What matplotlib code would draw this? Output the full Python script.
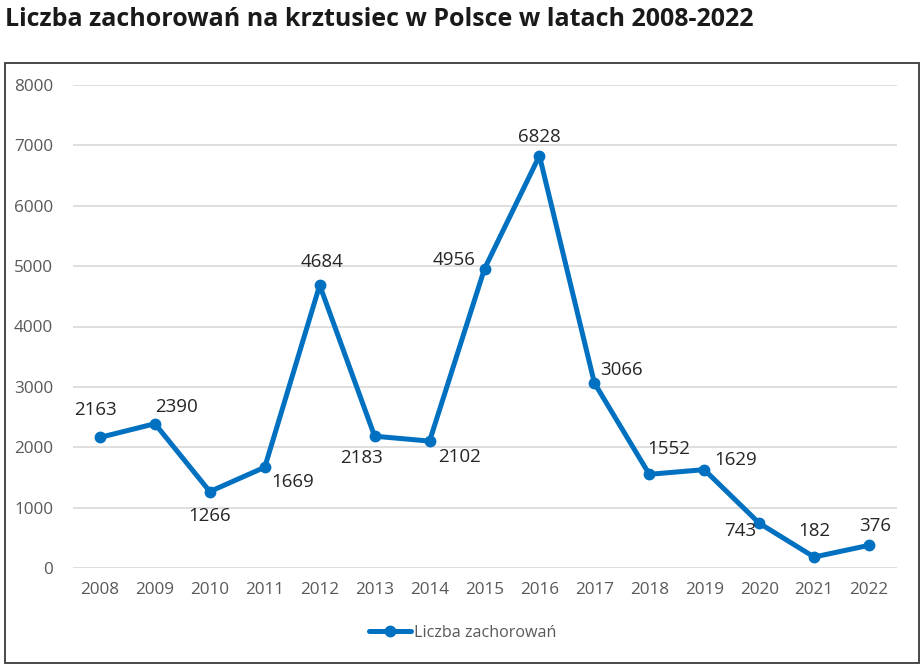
import matplotlib.pyplot as plt
from matplotlib.patches import Rectangle

plt.rcParams['font.family'] = ['Open Sans', 'DejaVu Sans']

years = ['2008', '2009', '2010', '2011', '2012', '2013', '2014', '2015',
         '2016', '2017', '2018', '2019', '2020', '2021', '2022']
cases = [2163, 2390, 1266, 1669, 4684, 2183, 2102, 4956,
         6828, 3066, 1552, 1629, 743, 182, 376]

# label offsets in pixels (dx right, dy down)
offsets_px = [(-5, -27), (22, -17), (0, 24), (28, 15), (2, -23), (-13, 22),
              (30, 16), (-30, -9), (0, -19), (27, -13), (19, -25), (31, -10),
              (-19, 8), (0, -26), (6, -19)]

W, H = 923, 666
fig = plt.figure(figsize=(W / 100, H / 100), dpi=100)

# plot area in pixels: x 72.5..896.5, y 85 (8000) .. 568 (0)
left, right = 72.5 / W, 896.5 / W
top, bottom = 1 - 85 / H, 1 - 568 / H
ax = fig.add_axes([left, bottom, right - left, top - bottom])

blue = '#0070C0'
x = list(range(len(years)))
line, = ax.plot(x, cases, color=blue, lw=3.6, marker='o', ms=7.5,
                solid_capstyle='round', label='Liczba zachorowań', zorder=3,
                clip_on=False)

for xi, v, (dx, dy) in zip(x, cases, offsets_px):
    ax.annotate(str(v), (xi, v), xytext=(dx * 0.72, -dy * 0.72),
                textcoords='offset points', ha='center', va='center',
                fontsize=13.5, color='#262626')

ax.set_xlim(-0.5, len(years) - 0.5)
ax.set_ylim(0, 8000)
ax.set_yticks(range(0, 8001, 1000))
ax.set_xticks(x)
ax.set_xticklabels(years)
ax.tick_params(axis='both', length=0, labelsize=12.3, colors='#595959')
ax.tick_params(axis='y', pad=14)
ax.tick_params(axis='x', pad=10)
ax.grid(axis='y', color='#D9D9D9', lw=1.2)
ax.set_axisbelow(True)
for s in ax.spines.values():
    s.set_visible(False)

leg = fig.legend(handles=[line], loc='center', bbox_to_anchor=(463 / W, 1 - 633 / H),
                 frameon=False, fontsize=11.6, handlelength=2.6, handletextpad=0.2)
for t in leg.get_texts():
    t.set_color('#595959')

fig.patches.append(Rectangle((5 / W, 1 - 663 / H), 914 / W, 600 / H,
                             transform=fig.transFigure, fill=False,
                             edgecolor='#3a3a3a', lw=1.3))

fig.text(5 / W, 1 - 20 / H, 'Liczba zachorowań na krztusiec w Polsce w latach 2008-2022',
         fontsize=18, fontweight='bold', color='#1a1a1a', va='center', ha='left')

fig.savefig('out.png', dpi=100)
